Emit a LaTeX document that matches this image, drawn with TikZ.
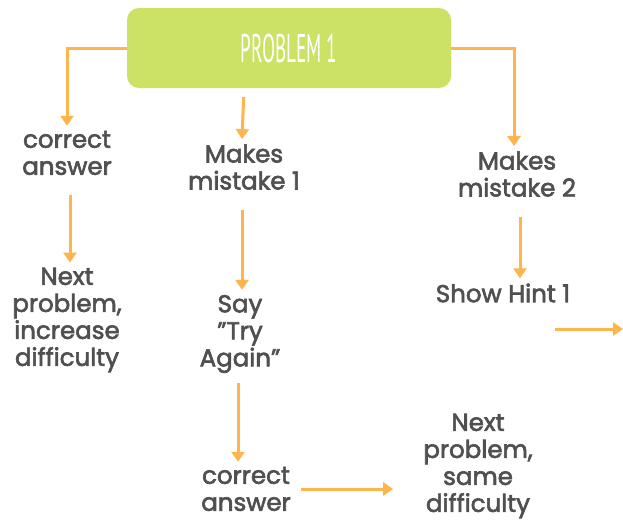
\documentclass[tikz,border=0pt]{standalone}
\usepackage{fontspec}
\setmainfont{Poppins}[FakeBold=2.5]
\newfontfamily\boxfont{PT Sans}
\usetikzlibrary{positioning,arrows.meta,calc}
\definecolor{lime}{HTML}{CBE265}
\definecolor{flow}{HTML}{FFB54C}
\definecolor{ink}{HTML}{505050}

\begin{document}
\begin{tikzpicture}[x=1pt,y=-1pt,>={Triangle[length=10pt,width=13pt]},
  txt/.style={align=center,text=ink,font=\fontsize{24.5}{27}\selectfont,inner sep=0pt},
  flowline/.style={->,draw=flow,line width=3pt}]
\useasboundingbox (0,0) rectangle (623,522);
\node[fill=lime,rounded corners=12pt,minimum width=324pt,minimum height=80pt,text=white] (prob) at (289,48) {\boxfont\fontsize{40}{40}\selectfont\scalebox{0.48}[1]{PROBLEM 1}};
\node[txt] (ca) at (67,153) {correct\\answer};
\node[txt] (m1) at (244,167) {Makes\\mistake 1};
\node[txt] (m2) at (517,174) {Makes\\mistake 2};
\node[txt] (inc) at (67,320) {Next\\problem,\\increase\\difficulty};
\node[txt] (try) at (240,334) {Say\\\symbol{34}Try\\Again\symbol{34}};
\node[txt] (hint) at (503,293) {Show Hint 1};
\node[txt] (cb) at (246,489) {correct\\answer};
\node[txt] (same) at (478,466) {Next\\problem,\\same\\difficulty};
\coordinate (hintout) at (623,329);
% arrows from the problem box
\draw[flowline] (prob.west) -| ([yshift=5pt]ca.north);
\draw[flowline,shorten <=9pt] (m1.north |- prob.south) -- ([xshift=-2pt,yshift=5pt]m1.north);
\draw[flowline] (prob.east) -| ([xshift=-3pt,yshift=5pt]m2.north);
% second row
\draw[flowline,shorten <=20pt,shorten >=5pt] ([xshift=3pt]ca.south) -- ([xshift=3pt]ca.south |- inc.north);
\draw[flowline,shorten <=20pt,shorten >=5pt] ([xshift=-2pt]m1.south) -- ([xshift=-2pt]m1.south |- try.north);
\draw[flowline,shorten <=20pt,shorten >=5pt] ([xshift=3pt]m2.south) -- ([xshift=3pt]m2.south |- hint.north);
\draw[flowline] ($(hintout)+(-68,0)$) -- (hintout);
% third row
\draw[flowline,shorten <=10pt,shorten >=5pt] ([xshift=-2pt]try.south) -- ([xshift=-2pt]try.south |- cb.north);
\draw[flowline,shorten <=10pt,shorten >=30pt] (cb.east) -- (cb.east -| same.west);
\end{tikzpicture}
\end{document}
